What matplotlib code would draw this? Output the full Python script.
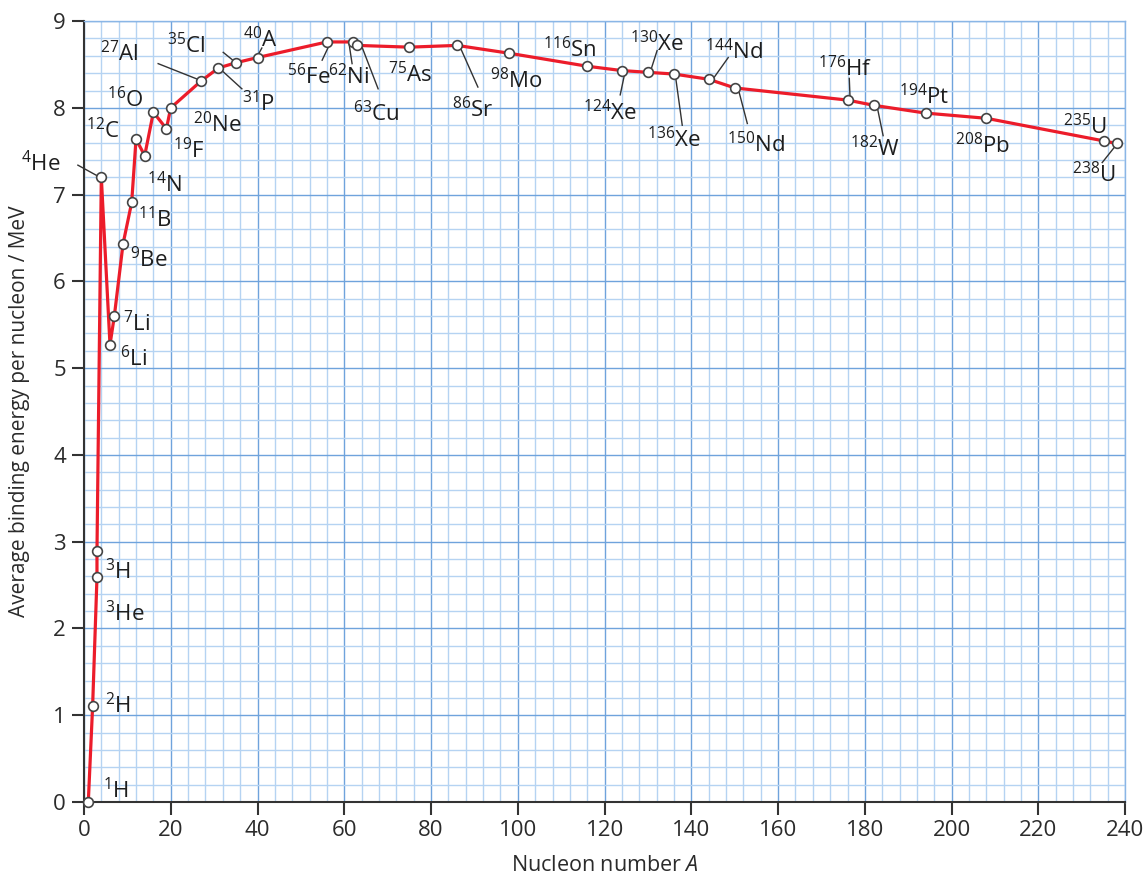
import matplotlib
matplotlib.use('Agg')
import matplotlib.pyplot as plt
from matplotlib.ticker import MultipleLocator

plt.rcParams['font.family'] = ['Open Sans', 'DejaVu Sans']
plt.rcParams['mathtext.fontset'] = 'custom'
plt.rcParams['mathtext.rm'] = 'Open Sans'
plt.rcParams['mathtext.it'] = 'Open Sans:italic'

# nuclide data
mass = [1, 2, 3, 3, 4, 6, 7, 9, 11, 12, 14, 16, 19, 20, 27, 31, 35, 40,
        56, 62, 63, 75, 86, 98, 116, 124, 130, 136, 144, 150, 176, 182,
        194, 208, 235, 238]
symbol = ['H', 'H', 'He', 'H', 'He', 'Li', 'Li', 'Be', 'B', 'C', 'N', 'O',
          'F', 'Ne', 'Al', 'P', 'Cl', 'A', 'Fe', 'Ni', 'Cu', 'As', 'Sr', 'Mo',
          'Sn', 'Xe', 'Xe', 'Xe', 'Nd', 'Nd', 'Hf', 'W', 'Pt', 'Pb', 'U', 'U']
energy = [0.0, 1.11, 2.59, 2.89, 7.2, 5.27, 5.6, 6.43, 6.91, 7.64, 7.45,
          7.95, 7.76, 8.0, 8.31, 8.46, 8.52, 8.58, 8.76, 8.76, 8.72, 8.70,
          8.72, 8.63, 8.48, 8.43, 8.41, 8.39, 8.33, 8.23, 8.09, 8.03, 7.94,
          7.88, 7.62, 7.59]

xticks = list(range(0, 241, 20))
yticks = list(range(0, 10))

# label placement: index -> (text x, text y, ha, leader line or None)
labels = {
    0: (4.4, 0.13, 'left', None),
    1: (4.8, 1.11, 'left', None),
    2: (4.8, 2.17, 'left', None),
    3: (4.8, 2.65, 'left', None),
    4: (-5.5, 7.36, 'right', ((-1.4, 7.34), (3.7, 7.2))),
    5: (8.3, 5.11, 'left', None),
    6: (9.0, 5.51, 'left', None),
    7: (10.6, 6.25, 'left', None),
    8: (12.5, 6.71, 'left', None),
    9: (8.3, 7.74, 'right', None),
    10: (14.5, 7.12, 'left', None),
    11: (5.3, 8.10, 'left', None),
    12: (20.5, 7.51, 'left', None),
    13: (25.1, 7.81, 'left', None),
    14: (3.7, 8.62, 'left', ((17.1, 8.51), (26.7, 8.32))),
    15: (36.4, 8.05, 'left', ((31.8, 8.43), (36.4, 8.22))),
    16: (19.1, 8.72, 'left', ((32.1, 8.64), (34.8, 8.53))),
    17: (36.7, 8.79, 'left', ((39.8, 8.58), (41.0, 8.69))),
    18: (46.8, 8.36, 'left', ((56.7, 8.74), (54.9, 8.55))),
    19: (56.3, 8.36, 'left', ((61.1, 8.74), (61.8, 8.51))),
    20: (62.0, 7.93, 'left', ((64.1, 8.70), (67.8, 8.22))),
    21: (70.1, 8.38, 'left', None),
    22: (84.8, 7.98, 'left', ((86.7, 8.70), (90.8, 8.24))),
    23: (93.6, 8.32, 'left', None),
    24: (105.8, 8.67, 'left', None),
    25: (115.0, 7.95, 'left', ((124.7, 8.41), (123.6, 8.15))),
    26: (125.9, 8.74, 'left', ((130.5, 8.41), (132.1, 8.66))),
    27: (129.8, 7.64, 'left', ((136.3, 8.38), (137.9, 7.80))),
    28: (143.2, 8.65, 'left', ((144.8, 8.32), (148.5, 8.58))),
    29: (148.2, 7.58, 'left', ((150.8, 8.22), (152.9, 7.82))),
    30: (169.2, 8.45, 'left', ((176.6, 8.09), (176.4, 8.34))),
    31: (176.6, 7.53, 'left', ((182.8, 8.02), (184.2, 7.68))),
    32: (187.9, 8.13, 'left', None),
    33: (200.8, 7.57, 'left', None),
    34: (225.7, 7.78, 'left', None),
    35: (227.8, 7.23, 'left', ((238.2, 7.59), (234.7, 7.37))),
}

fig = plt.figure(figsize=(11.47, 8.8), dpi=100)
ax = fig.add_axes([0.0732, 0.0886, 0.9078, 0.8874])

ax.set_xlim(0, 240)
ax.set_ylim(0, 9)
ax.xaxis.set_minor_locator(MultipleLocator(4))
ax.yaxis.set_minor_locator(MultipleLocator(0.2))
ax.set_xticks(xticks)
ax.set_yticks(yticks)
ax.grid(True, which='minor', color='#b5d3f2', linewidth=1.0, zorder=0)
ax.grid(True, which='major', color='#6fa3dc', linewidth=1.0, zorder=0)
ax.set_axisbelow(True)
ax.tick_params(which='minor', length=0)
ax.tick_params(which='major', direction='out', length=9, width=1.5,
               color='#333333', labelsize=16, labelcolor='#2b2b2b', pad=4)
for s in ['top', 'right']:
    ax.spines[s].set_color('#8ab6e6')
    ax.spines[s].set_linewidth(1.0)
for s in ['left', 'bottom']:
    ax.spines[s].set_color('#333333')
    ax.spines[s].set_linewidth(1.5)

ax.plot(mass, energy, color='#ec1c2a', linewidth=2.3, zorder=3,
        marker='o', markersize=7, markerfacecolor='white',
        markeredgecolor='#444444', markeredgewidth=1.2, clip_on=False)

for i, (tx, ty, ha, leader) in labels.items():
    ax.text(tx, ty, r'$^{%d}$%s' % (mass[i], symbol[i]), fontsize=16,
            ha=ha, va='center', color='#1e1e1e', zorder=4, clip_on=False)
    if leader is not None:
        (x0, y0), (x1, y1) = leader
        ax.plot([x0, x1], [y0, y1], color='#333333', linewidth=1.0,
                zorder=2, clip_on=False)

ax.set_xlabel(r'Nucleon number $\mathit{A}$', fontsize=15.5, color='#2b2b2b',
              labelpad=10)
ax.set_ylabel('Average binding energy per nucleon / MeV', fontsize=15,
              color='#2b2b2b')
ax.yaxis.set_label_coords(-0.052, 0.5)

fig.savefig('out.png', dpi=100)
